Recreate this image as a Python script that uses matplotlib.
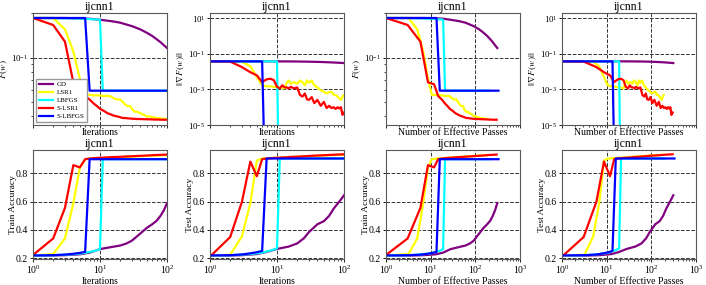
import matplotlib
matplotlib.use("Agg")
import matplotlib.pyplot as plt
from matplotlib.ticker import NullFormatter

plt.rcParams['font.family'] = ['Liberation Serif', 'DejaVu Serif']
plt.rcParams['mathtext.fontset'] = 'stix'

dataset = "ijcnn1"
methods = ["GD", "LSR1", "LBFGS", "S-LSR1", "S-LBFGS"]
colors = ["purple", "yellow", "cyan", "red", "blue"]

# GD
gd_iters = [1, 2, 3, 5, 7, 10, 15, 20, 25, 30, 40, 50, 60, 70, 80, 90, 100]
gd_passes = [1, 4, 7, 13, 19, 28, 44, 60, 76, 92, 122, 153, 184, 215, 246, 277, 310]
gd_loss = [0.185, 0.185, 0.185, 0.184, 0.183, 0.180, 0.176, 0.172, 0.167, 0.163,
           0.155, 0.147, 0.140, 0.133, 0.127, 0.121, 0.116]
gd_grad = [0.0385, 0.0385, 0.0384, 0.0383, 0.0382, 0.038, 0.0377, 0.0373, 0.0369,
           0.0364, 0.0355, 0.0346, 0.0337, 0.0328, 0.032, 0.0313, 0.0305]
gd_train = [0.22, 0.22, 0.222, 0.228, 0.24, 0.265, 0.28, 0.29, 0.305, 0.325,
            0.375, 0.415, 0.44, 0.465, 0.50, 0.54, 0.59]
gd_test = [0.22, 0.22, 0.222, 0.23, 0.245, 0.266, 0.283, 0.305, 0.34, 0.385,
           0.44, 0.462, 0.50, 0.55, 0.585, 0.615, 0.645]

# LSR1
lsr1_iters = [1, 2, 3, 4, 5, 6, 7, 8, 9, 10, 11, 12, 13, 14, 15, 16, 18, 20, 22, 24,
              26, 28, 30, 33, 36, 40, 45, 50, 55, 60, 65, 70, 75, 80, 85, 90, 95, 100]
lsr1_passes = [1, 3.2, 5.0, 6.8, 8.7, 10.6, 12.5, 14.4, 16.3, 18.2, 20.1, 22, 24, 26,
               28, 30, 34, 38, 41, 45, 49, 53, 56, 62, 68, 75, 85, 94, 104, 113, 123,
               132, 142, 151, 161, 170, 180, 189]
lsr1_loss = [0.185, 0.185, 0.155, 0.11, 0.072, 0.056, 0.056, 0.0555, 0.0555, 0.0555,
             0.055, 0.055, 0.055, 0.055, 0.054, 0.053, 0.052, 0.052, 0.050, 0.048,
             0.047, 0.047, 0.045, 0.043, 0.043, 0.042, 0.041, 0.040, 0.040, 0.0395,
             0.0393, 0.039, 0.0389, 0.0388, 0.0387, 0.0386, 0.0385, 0.0385]
lsr1_grad = [0.038, 0.038, 0.036, 0.02, 0.005, 0.0017, 0.0015, 0.0015, 0.0014, 0.0013,
             0.0013, 0.0012, 0.00115, 0.0025, 0.0032, 0.0021, 0.0026, 0.0021, 0.0032,
             0.0026, 0.0017, 0.0032, 0.0024, 0.0032, 0.0017, 0.0013, 0.0009, 0.00074,
             0.0006, 0.0007, 0.00074, 0.0005, 0.00049, 0.0004, 0.00032, 0.00026,
             0.0004, 0.00049]
lsr1_train = [0.22, 0.23, 0.34, 0.59, 0.84, 0.90, 0.903, 0.905, 0.906, 0.907, 0.908,
              0.909, 0.91, 0.91, 0.911, 0.912, 0.913, 0.914, 0.915, 0.916, 0.917,
              0.918, 0.918, 0.919, 0.92, 0.921, 0.922, 0.923, 0.924, 0.925, 0.925,
              0.926, 0.926, 0.927, 0.927, 0.928, 0.928, 0.929]
lsr1_test = [0.22, 0.225, 0.355, 0.59, 0.89, 0.905, 0.906, 0.908, 0.909, 0.91, 0.911,
             0.912, 0.913, 0.913, 0.914, 0.915, 0.916, 0.917, 0.918, 0.919, 0.92,
             0.921, 0.921, 0.922, 0.923, 0.924, 0.925, 0.926, 0.927, 0.928, 0.928,
             0.929, 0.929, 0.93, 0.93, 0.931, 0.931, 0.932]

# LBFGS
lbfgs_iters = [1, 2, 3, 4, 5, 6, 7, 8, 9, 10, 11, 20, 50, 100]
lbfgs_passes = [1, 3, 5, 7, 9, 11, 13, 15, 17, 19, 21, 39, 99, 199]
lbfgs_loss = [0.185, 0.185, 0.184, 0.184, 0.183, 0.183, 0.182, 0.181, 0.181, 0.180,
              0.0597, 0.0597, 0.0597, 0.0597]
lbfgs_grad = [0.038, 0.038, 0.038, 0.038, 0.038, 0.038, 0.038, 0.038, 0.038, 0.038,
              1e-12, 1e-12, 1e-12, 1e-12]
lbfgs_train = [0.22, 0.222, 0.225, 0.229, 0.233, 0.238, 0.245, 0.25, 0.257, 0.265,
               0.90, 0.90, 0.90, 0.90]
lbfgs_test = [0.22, 0.222, 0.226, 0.23, 0.235, 0.24, 0.248, 0.255, 0.262, 0.27,
              0.905, 0.905, 0.905, 0.905]

# S-LSR1
slsr1_iters = lsr1_iters
slsr1_passes = [1, 3.05, 5.9, 8.7, 11.9, 14.7, 17.8, 20.8, 23.8, 26.9, 30, 33, 36, 39,
                42, 45, 51, 57, 63, 69, 75, 81, 87, 96, 105, 117, 132, 147, 162, 177,
                192, 207, 222, 237, 252, 267, 282, 300]
slsr1_loss = [0.185, 0.166, 0.128, 0.068, 0.066, 0.055, 0.052, 0.049, 0.047, 0.045,
              0.044, 0.043, 0.042, 0.0415, 0.041, 0.0405, 0.040, 0.0395, 0.039, 0.039,
              0.0388, 0.0387, 0.0386, 0.0385, 0.0384, 0.0384, 0.0383, 0.0383, 0.0382,
              0.0382, 0.0381, 0.0381, 0.0381, 0.038, 0.038, 0.038, 0.038, 0.038]
slsr1_grad = [0.038, 0.037, 0.018, 0.0093, 0.0062, 0.0026, 0.0037, 0.004, 0.0033,
              0.0014, 0.00115, 0.0017, 0.0013, 0.0013, 0.00115, 0.0014, 0.00115,
              0.0013, 0.00049, 0.0004, 0.00059, 0.00028, 0.00026, 0.00037, 0.00017,
              0.00026, 0.00012, 0.0002, 0.00009, 0.00012, 0.00009, 0.0001, 0.00008,
              0.0001, 0.000085, 0.0001, 0.000037, 0.00005]
slsr1_train = [0.223, 0.34, 0.556, 0.858, 0.842, 0.90, 0.905, 0.907, 0.909, 0.91,
               0.911, 0.912, 0.913, 0.914, 0.915, 0.915, 0.916, 0.917, 0.918, 0.919,
               0.92, 0.92, 0.921, 0.922, 0.923, 0.924, 0.925, 0.926, 0.927, 0.928,
               0.929, 0.93, 0.93, 0.931, 0.931, 0.932, 0.932, 0.933]
slsr1_test = [0.212, 0.35, 0.60, 0.883, 0.78, 0.90, 0.905, 0.907, 0.909, 0.91, 0.911,
              0.912, 0.913, 0.914, 0.915, 0.916, 0.917, 0.918, 0.919, 0.92, 0.921,
              0.922, 0.923, 0.924, 0.925, 0.926, 0.927, 0.928, 0.929, 0.93, 0.931,
              0.932, 0.932, 0.933, 0.933, 0.934, 0.934, 0.935]

# S-LBFGS
slbfgs_iters = [1, 2, 3, 4, 5, 6, 7, 10, 20, 50, 100]
slbfgs_passes = [1, 3.5, 6, 8.5, 11, 13.5, 16, 25, 55, 160, 330]
slbfgs_loss = [0.185, 0.185, 0.185, 0.185, 0.185, 0.185, 0.0597, 0.0597, 0.0597,
               0.0597, 0.0597]
slbfgs_grad = [0.038, 0.038, 0.038, 0.038, 0.038, 0.038, 1e-12, 1e-12, 1e-12, 1e-12,
               1e-12]
slbfgs_train = [0.22, 0.222, 0.226, 0.232, 0.238, 0.245, 0.90, 0.90, 0.90, 0.90, 0.90]
slbfgs_test = [0.22, 0.222, 0.227, 0.235, 0.243, 0.252, 0.905, 0.905, 0.905, 0.905,
               0.905]

iters = [gd_iters, lsr1_iters, lbfgs_iters, slsr1_iters, slbfgs_iters]
passes = [gd_passes, lsr1_passes, lbfgs_passes, slsr1_passes, slbfgs_passes]
loss = [gd_loss, lsr1_loss, lbfgs_loss, slsr1_loss, slbfgs_loss]
grad = [gd_grad, lsr1_grad, lbfgs_grad, slsr1_grad, slbfgs_grad]
train = [gd_train, lsr1_train, lbfgs_train, slsr1_train, slbfgs_train]
test = [gd_test, lsr1_test, lbfgs_test, slsr1_test, slbfgs_test]

fig = plt.figure(figsize=(7.06, 2.85), dpi=100)
W, H = 706.0, 285.0
lefts = [33, 210, 386, 562]
rows = [(13, 125), (150, 259)]

panels = [
    (0, 0, iters, loss, "$F(w)$", "Iterations"),
    (0, 1, iters, grad, r"$||\nabla F(w)||$", "Iterations"),
    (0, 2, passes, loss, "$F(w)$", "Number of Effective Passes"),
    (0, 3, passes, grad, r"$||\nabla F(w)||$", "Number of Effective Passes"),
    (1, 0, iters, train, "Train Accuracy", "Iterations"),
    (1, 1, iters, test, "Test Accuracy", "Iterations"),
    (1, 2, passes, train, "Train Accuracy", "Number of Effective Passes"),
    (1, 3, passes, test, "Test Accuracy", "Number of Effective Passes"),
]

for r, c, xs, ys, ylab, xlab in panels:
    top, bot = rows[r]
    ax = fig.add_axes([lefts[c] / W, 1 - bot / H, 134 / W, (bot - top) / H])
    for i in range(5):
        ax.plot(xs[i], ys[i], color=colors[i], lw=1.6, label=methods[i])
    ax.set_xscale("log")
    ax.set_xlim(1, 100 if xs is iters else 1000)
    ax.tick_params(labelsize=7, length=2, width=0.6, pad=1.5)
    ax.tick_params(which="minor", length=1.2, width=0.5)
    if r == 0:
        ax.set_yscale("log")
        if ys is loss:
            ax.set_ylim(0.035, 0.2)
            ax.set_yticks([0.1])
        else:
            ax.set_ylim(1e-5, 20)
            ax.set_yticks([1e1, 1e-1, 1e-3, 1e-5])
        ax.yaxis.set_minor_formatter(NullFormatter())
        ax.tick_params(axis="x", which="both", labelbottom=False)
        ax.tick_params(axis="y", labelsize=6.3)
    else:
        ax.set_ylim(0.195, 0.965)
        ax.set_yticks([0.2, 0.4, 0.6, 0.8])
    ax.xaxis.set_minor_formatter(NullFormatter())
    ax.grid(True, which="major", color="0.2", ls="--", lw=0.7)
    for s in ax.spines.values():
        s.set_color("0.35")
        s.set_linewidth(0.8)
    ax.set_title(dataset, fontsize=8.5, pad=2)
    ax.set_xlabel(xlab, fontsize=7, labelpad=0.5)
    ax.set_ylabel(ylab, fontsize=6.8)
    ax.yaxis.set_label_coords(-0.17 if r == 0 else -0.12, 0.5)
    if r == 0 and c == 0:
        ax.legend(loc="lower left", fontsize=5, handlelength=2.0,
                  borderpad=0.35, labelspacing=0.3, handletextpad=0.6,
                  framealpha=1, edgecolor="0.6", fancybox=False)

fig.savefig("out.png", dpi=100)
